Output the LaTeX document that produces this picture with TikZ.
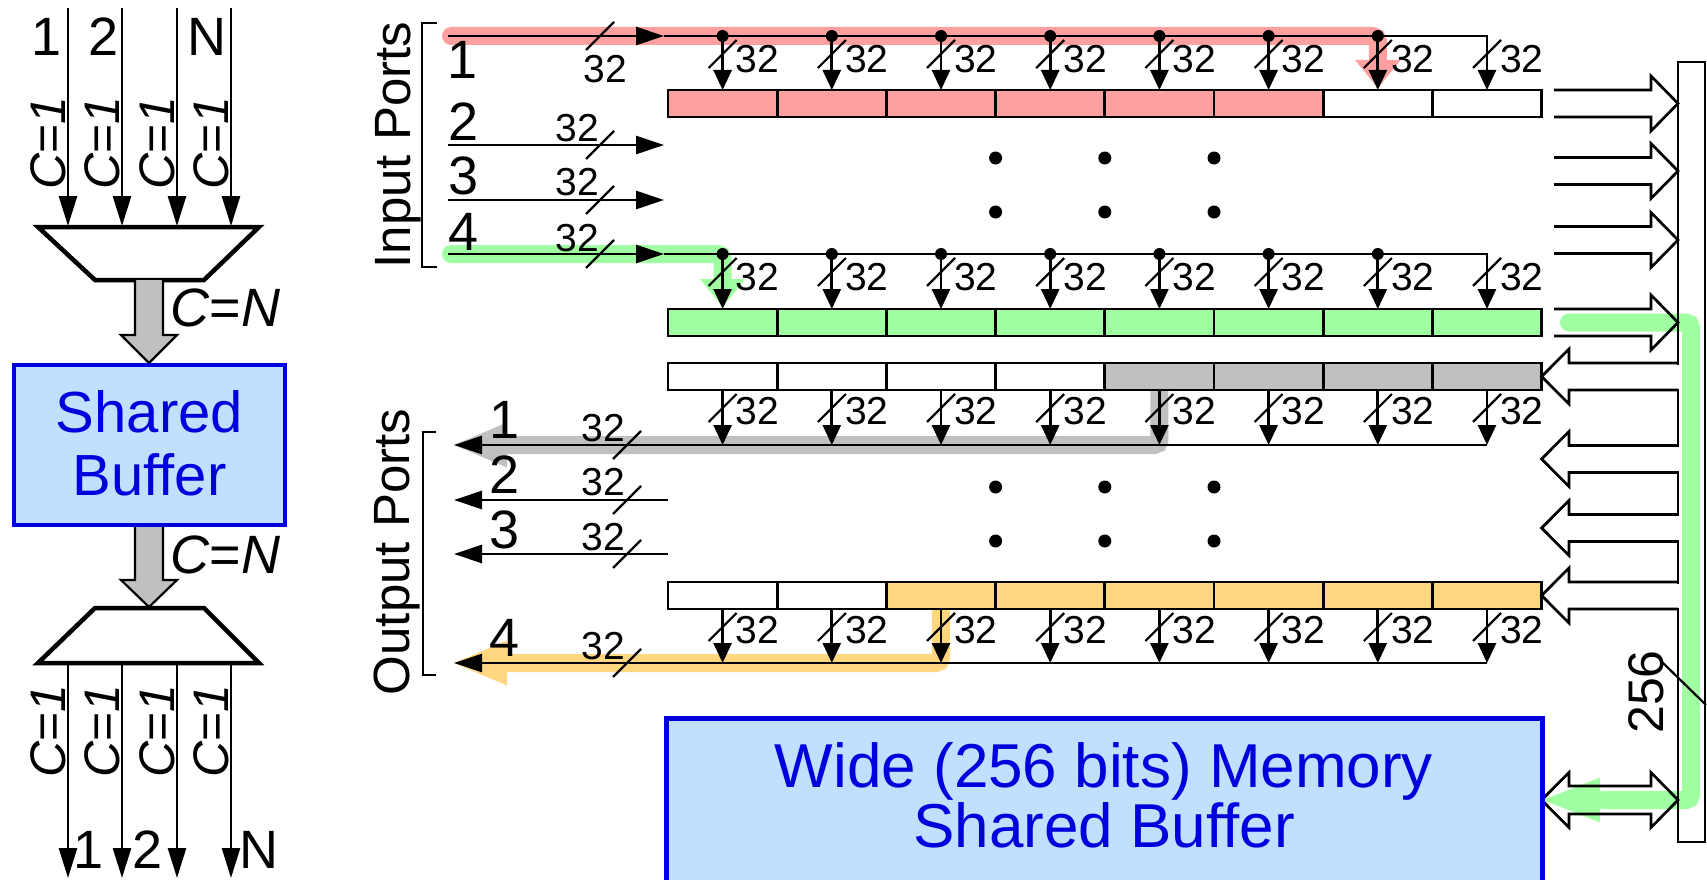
\documentclass[tikz,border=0pt]{standalone}
\usepackage{fontspec}
\setmainfont{Liberation Sans}
\usetikzlibrary{arrows.meta}
\definecolor{hred}{HTML}{FFA0A0}
\definecolor{hgreen}{HTML}{A0FFA0}
\definecolor{hgray}{HTML}{C0C0C0}
\definecolor{horange}{HTML}{FFD780}
\definecolor{boxblue}{HTML}{BFE0FF}
\definecolor{txtblue}{HTML}{0000DD}
\tikzset{
 wire/.style={line width=2.7pt, draw=black},
 tipbig/.style={-{Triangle[length=28pt,width=18pt]}},
 tipleft/.style={-{Triangle[length=30pt,width=18pt]}},
 tapa/.style={-{Triangle[length=20pt,width=18pt]}},
 band/.style={line width=18pt, rounded corners=5pt},
 slashline/.style={line width=2.2pt},
 lbl32/.style={font=\fontsize{39}{39}\selectfont, inner sep=0pt},
 plbl/.style={font=\fontsize{54}{54}\selectfont, inner sep=0pt},
 clbl/.style={font=\fontsize{50}{50}\selectfont, inner sep=0pt, rotate=90, anchor=base},
 cnlbl/.style={font=\fontsize{54}{54}\selectfont, inner sep=0pt, anchor=west},
 portlbl/.style={font=\fontsize{51}{51}\selectfont, inner sep=0pt, rotate=90, anchor=base},
 cellbox/.style={draw, line width=2.7pt, minimum width=109.2pt, minimum height=27pt, inner sep=0pt, outer sep=0pt, anchor=north west},
 graybig/.style={fill=hgray, draw=black, line width=2.2pt},
 mux/.style={draw=black, fill=white, line width=4.5pt},
 bluebox/.style={draw=txtblue, fill=boxblue, line width=4.5pt, inner sep=0pt},
 bluetxt/.style={text=txtblue, inner sep=0pt, anchor=base},
 edot/.style={fill=black},
}
\newcommand\myinrow[2]{%
 \draw[wire,tapa] (664,#1) -- (1487,#1) -- (1487,#2);
 \foreach \i in {1,...,8}{
  \pgfmathsetmacro\xc{668+(\i-0.5)*109.2}
  \ifnum\i<8 \fill (\xc,#1) circle (6); \draw[wire,tapa] (\xc,#1) -- (\xc,#2); \fi
  \draw[slashline] (\xc-14,#1+32) -- (\xc+14,#1+4);
  \node[lbl32,anchor=west] at (\xc+13,#1+23) {32};
 }
}
\newcommand\myoutrow[2]{%
 \draw[wire,tipbig] (1487,#2) -- (454,#2);
 \foreach \i in {1,...,8}{
  \pgfmathsetmacro\xc{668+(\i-0.5)*109.2}
  \draw[wire,tapa] (\xc,#1) -- (\xc,#2);
  \draw[slashline] (\xc-14,#1+32) -- (\xc+14,#1+4);
  \node[lbl32,anchor=west] at (\xc+13,#1+21) {32};
 }
}
\begin{document}
\begin{tikzpicture}[x=1pt,y=-1pt]
\useasboundingbox (0,0) rectangle (1707,880);

%================ LEFT PART ================
\foreach \x/\n in {68/1,122/2,177/3,231/4}{
  \coordinate (ti\n) at (\x,8);
  \coordinate (mi\n) at (\x,226);
  \draw[wire,tipleft] (ti\n) -- (mi\n);
  \node[clbl] at (\x-3,143) {\textit{C}=\textit{1}};
  \coordinate (mo\n) at (\x,663);
  \coordinate (to\n) at (\x,878);
  \draw[wire,tipleft] (mo\n) -- (to\n);
  \node[clbl] at (\x-3,731) {\textit{C}=\textit{1}};
}
\node[plbl] (l1) at (47,37) {1};
\node[plbl] (l2) at (104,37) {2};
\node[plbl] (lN) at (207,37) {N};
\node[plbl] (b1) at (89,850) {1};
\node[plbl] (b2) at (148,850) {2};
\node[plbl] (bN) at (259,850) {N};

\draw[mux] (38,227) -- (259,227) -- (204,280) -- (95,280) -- cycle;
\draw[mux] (95,608) -- (204,608) -- (259,663) -- (38,663) -- cycle;

\draw[graybig] (135,280) -- (135,335) -- (121,335) -- (149,363) -- (177,335) -- (163,335) -- (163,280);
\draw[graybig] (135,527) -- (135,580) -- (121,580) -- (149,607) -- (177,580) -- (163,580) -- (163,527);
\node[cnlbl] (cn1) at (170,308) {\textit{C}=\textit{N}};
\node[cnlbl] (cn2) at (170,555) {\textit{C}=\textit{N}};

\node[bluebox, minimum width=271pt, minimum height=160pt] (sb) at (149.5,445) {};
\node[bluetxt, font=\fontsize{58}{58}\selectfont] (sbt1) at (149.5,432) {Shared};
\node[bluetxt, font=\fontsize{58}{58}\selectfont] (sbt2) at (149.5,495) {Buffer};

%================ HIGHLIGHT BANDS ================
\draw[band, hred, line cap=round] (451,36) -- (1377.8,36) -- (1377.8,64);
\fill[hred] (1355,60) -- (1400.6,60) -- (1377.8,88) -- cycle;
\draw[band, hgreen, line cap=round] (451,254) -- (722.6,254) -- (722.6,283);
\fill[hgreen] (700,279) -- (745.2,279) -- (722.6,307) -- cycle;
\draw[band, hgreen, line cap=round] (1569,322.5) -- (1691,322.5) -- (1691,800) -- (1603,800);
\fill[hgreen] (1600,777.5) -- (1600,822.5) -- (1543,800) -- cycle;
\draw[band, hgray] (1159.4,390) -- (1159.4,445) -- (505,445);
\fill[hgray] (507,422.5) -- (507,467.5) -- (454,445) -- cycle;
\draw[band, horange] (940.8,609) -- (940.8,663) -- (505,663);
\fill[horange] (507,640.5) -- (507,685.5) -- (454,663) -- cycle;

%================ CELLS ================
\foreach \i/\c in {1/hred,2/hred,3/hred,4/hred,5/hred,6/hred,7/white,8/white}
  \node[cellbox, fill=\c] (ra\i) at ({668+(\i-1)*109.2},90) {};
\foreach \i in {1,...,8}
  \node[cellbox, fill=hgreen] (rb\i) at ({668+(\i-1)*109.2},309) {};
\foreach \i/\c in {1/white,2/white,3/white,4/white,5/hgray,6/hgray,7/hgray,8/hgray}
  \node[cellbox, fill=\c] (rc\i) at ({668+(\i-1)*109.2},363) {};
\foreach \i/\c in {1/white,2/white,3/horange,4/horange,5/horange,6/horange,7/horange,8/horange}
  \node[cellbox, fill=\c] (rd\i) at ({668+(\i-1)*109.2},582) {};

%================ INPUT PORTS ================
\draw[line width=2.2pt] (437,23) -- (422,23) -- (422,267) -- (437,267);
\node[portlbl] (ip) at (410,145) {Input Ports};
\foreach \y/\n in {36/1,145/2,200/3,254/4}{
  \coordinate (is\n) at (448,\y);
  \coordinate (ie\n) at (664,\y);
  \draw[wire,tipbig] (is\n) -- (ie\n);
  \draw[slashline] (586,\y+14) -- (614,\y-14);
}
\node[plbl] at (463,60) {1};
\node[plbl] at (464,122) {2};
\node[plbl] at (464,176) {3};
\node[plbl] at (464,232) {4};
\node[lbl32] at (605,69) {32};
\node[lbl32] at (577,128) {32};
\node[lbl32] at (577,182) {32};
\node[lbl32] at (577,238) {32};
\myinrow{36}{90}
\myinrow{254}{309}

%================ OUTPUT PORTS ================
\draw[line width=2.2pt] (436,432) -- (423,432) -- (423,675) -- (436,675);
\node[portlbl] (op) at (409,552) {Output Ports};
\myoutrow{390}{445}
\myoutrow{609}{663}
\foreach \y/\n in {500/2,554/3}{
  \coordinate (os\n) at (668,\y);
  \coordinate (oe\n) at (454,\y);
  \draw[wire,tipbig] (os\n) -- (oe\n);
}
\foreach \y in {445,500,554,663}
  \draw[slashline] (613,\y+14) -- (641,\y-14);
\node[plbl] at (505,420) {1};
\node[plbl] at (505,475) {2};
\node[plbl] at (505,530) {3};
\node[plbl] at (505,638) {4};
\node[lbl32] at (603,428) {32};
\node[lbl32] at (603,482) {32};
\node[lbl32] at (603,537) {32};
\node[lbl32] at (603,646) {32};

%================ ELLIPSIS DOTS ================
\foreach \x in {995.6,1104.8,1214}
  \foreach \y in {158,212,487,541}
    \fill[edot] (\x,\y) circle (6.5);

%================ RIGHT BUS ================
\draw[wire] (1678,62) rectangle (1705,842);
\foreach \y in {103.5,171,240,322.5}
  \draw[wire] (1554,\y-13.5) -- (1651,\y-13.5) -- (1651,\y-27.5) -- (1678,\y) -- (1651,\y+27.5) -- (1651,\y+13.5) -- (1554,\y+13.5);
\foreach \y in {376.5,459,528,595.5}{
  \fill[white] (1676,\y-12) rectangle (1680.5,\y+12);
  \draw[wire] (1678,\y-13.5) -- (1569,\y-13.5) -- (1569,\y-27.5) -- (1541.6,\y) -- (1569,\y+27.5) -- (1569,\y+13.5) -- (1678,\y+13.5);
}
\draw[wire] (1569,786) -- (1651,786) -- (1651,772.5) -- (1678,800) -- (1651,827.5) -- (1651,814) -- (1569,814) -- (1569,827.5) -- (1541.6,800) -- (1569,772.5) -- cycle;
\node[font=\fontsize{50}{50}\selectfont, inner sep=0pt, rotate=90, anchor=base] (w256) at (1663,692) {256};
\draw[slashline] (1662,662) -- (1706,705);

%================ MEMORY ================
\draw[draw=txtblue, fill=boxblue, line width=5pt] (666,718) rectangle (1542,900);
\node[bluetxt, font=\fontsize{62}{62}\selectfont] (m1) at (1104,787) {Wide (256 bits) Memory};
\node[bluetxt, font=\fontsize{62}{62}\selectfont] (m2) at (1104,847) {Shared Buffer};
\end{tikzpicture}
\end{document}
